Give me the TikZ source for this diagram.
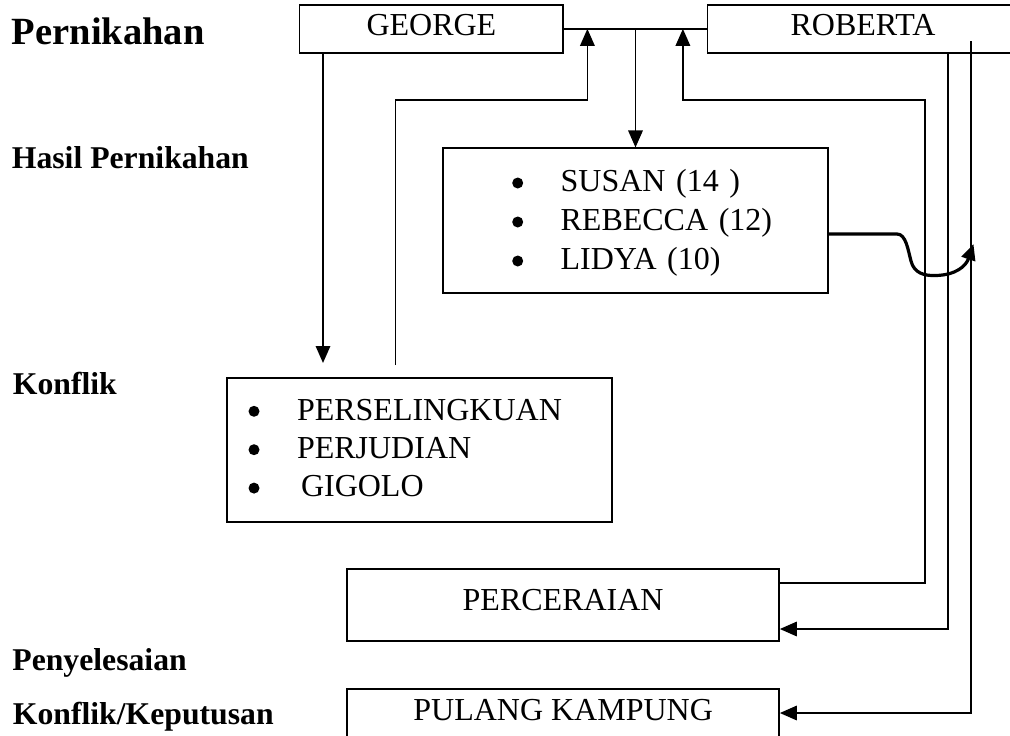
\documentclass[tikz,border=0pt]{standalone}
\usepackage{fontspec}
\setmainfont{Liberation Serif}
\usetikzlibrary{arrows.meta,calc}
\tikzset{
  box/.style={draw, line width=1.7pt, rectangle, inner sep=0pt, font=\fontsize{32}{39}\selectfont},
  lbl/.style={anchor=base west, inner sep=0pt, font=\fontsize{31.7}{36}\selectfont\bfseries},
  conn/.style={line width=1.7pt},
  arr/.style={line width=1.7pt, -{Triangle[length=17pt,width=14.5pt]}},
  curvearr/.style={line width=3.2pt, line join=round, -{Triangle[length=16pt,width=14pt]}},
}
\newcommand{\bulletdot}{\raisebox{3.2pt}{\tikz\fill (0pt,0pt) circle (5.5pt);}}
\newcommand{\bul}[2][48.6pt]{\mbox{\makebox[#1][l]{\hspace{0.2pt}\bulletdot}#2}}

\begin{document}
\begin{tikzpicture}[x=1pt,y=-1pt]
\useasboundingbox (0,0) rectangle (1010,736);
\clip (0,0) rectangle (1010,736);

% left labels
\node[lbl, font=\fontsize{38.5}{42}\selectfont\bfseries] (t1) at (11.7,44.3) {Pernikahan};
\node[lbl] (t2) at (11.7,168.3) {Hasil Pernikahan};
\node[lbl] (t3) at (12.7,394.3) {Konflik};
\node[lbl] (t4) at (12.2,670.7) {Penyelesaian};
\node[lbl] (t5) at (12.7,724) {Konflik/Keputusan};

% boxes
\node[box, minimum width=263.6pt, minimum height=47.7pt, text height=21.2pt, text depth=7pt]
  (george) at (431.4,28.85) {GEORGE};
\node[box, minimum width=310.8pt, minimum height=47.7pt, text height=21.2pt, text depth=7pt]
  (roberta) at (863,28.85) {ROBERTA};
\node[box, inner xsep=69pt, text width=247pt, align=left, minimum height=144.7pt,
  text height=22pt, text depth=79.9pt]
  (susan) at (635.5,220.65) {\bul{SUSAN (14 )}\\\bul{REBECCA (12)}\\\bul{LIDYA (10)}};
\node[box, font=\fontsize{32}{38.4}\selectfont, inner xsep=21pt, text width=342.4pt, align=left,
  minimum height=144pt, text height=22pt, text depth=81.4pt]
  (konflik) at (419.5,449.7) {\bul[48.7pt]{PERSELINGKUAN}\\\bul[48.7pt]{PERJUDIAN}\\\bul[48.7pt]{\hspace{4pt}GIGOLO}};
\node[box, minimum width=431.7pt, minimum height=72pt, text height=21.2pt, text depth=11.2pt]
  (perc) at (563.15,605) {PERCERAIAN};
\node[box, minimum width=431.7pt, minimum height=71pt, text height=21.2pt, text depth=30.2pt]
  (pk) at (563.15,724.5) {PULANG KAMPUNG};

% helper coordinates
\coordinate (gk) at (323,363);
\coordinate (kg0) at (395.5,365);
\coordinate (kgc) at (587.4,100);
\coordinate (prS) at (925,583);
\coordinate (prC) at (682.9,100);
\coordinate (rp) at (948.3,629);
\coordinate (rk0) at (971,41);
\coordinate (rk) at (971,713);
\coordinate (cv0) at (828,234);
\coordinate (cvT) at (973.5,244);

% connectors
\draw[conn] (george.east) -- (roberta.west);
\draw[arr] (susan.north |- george.east) -- (susan.north);
\draw[arr] (george.south -| gk) -- (gk);
\draw[arr] (kg0) |- (kgc) -- (kgc |- george.east);
\draw[arr] (perc.east |- prS) -| (prC -| prS) -- (prC) -- (prC |- roberta.west);
\draw[arr] (roberta.south -| rp) |- (perc.east |- rp);
\draw[arr] (rk0) |- (pk.east |- rk);
\draw[curvearr] (susan.east |- cv0) -- (897,234)
  .. controls (906,234) and (908,250) .. (911,261)
  .. controls (914,273) and (924,276) .. (936,275.5)
  .. controls (956,275) and (966,266) .. (cvT);
\end{tikzpicture}
\end{document}
